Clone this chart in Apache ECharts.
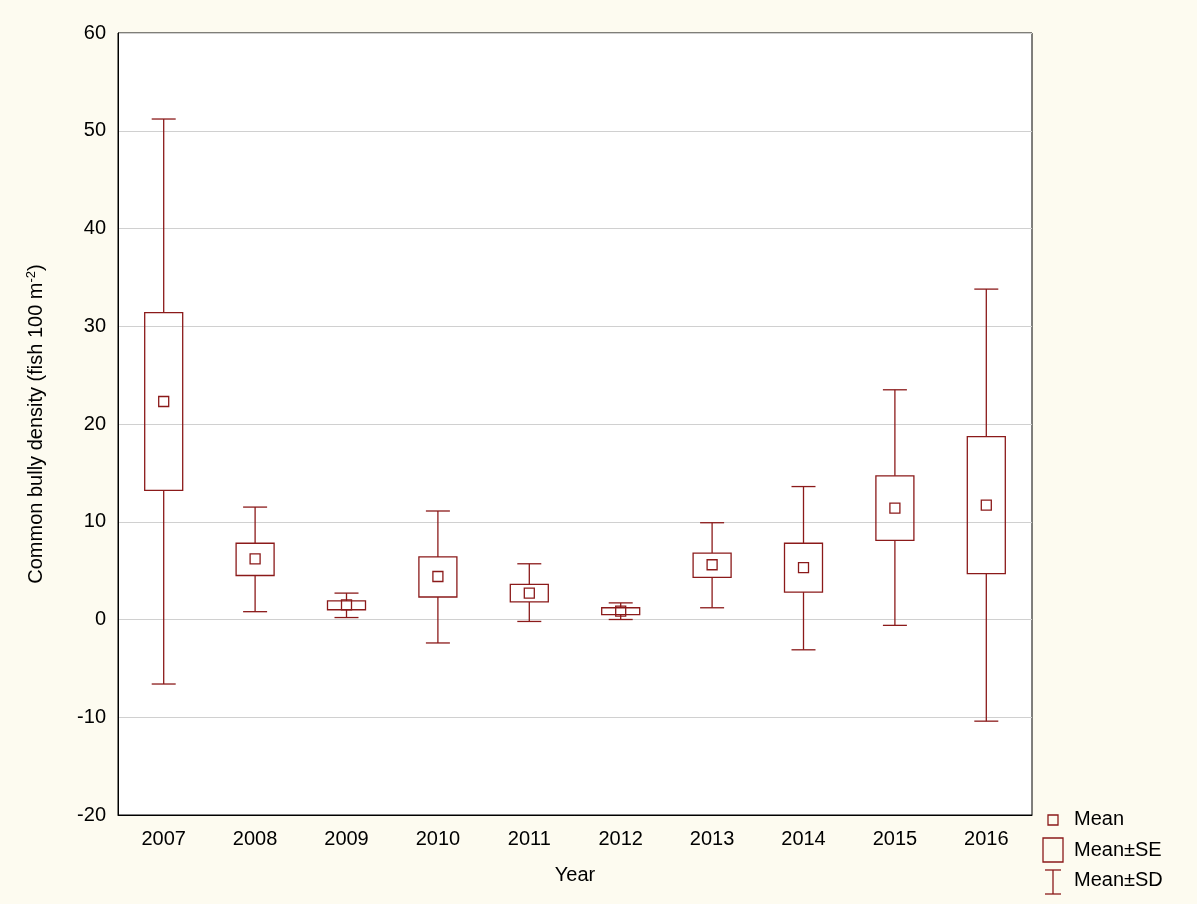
<!DOCTYPE html>
<html><head><meta charset="utf-8">
<script src="https://cdn.jsdelivr.net/npm/echarts@6/dist/echarts.min.js"></script>
<style>html,body{margin:0;background:#fdfbf0;}#c{width:1197px;height:904px;}</style>
</head><body><div id="c"></div>
<script>
var years=['2007','2008','2009','2010','2011','2012','2013','2014','2015','2016'];
var mean=[22.3,6.2,1.5,4.4,2.7,0.85,5.6,5.3,11.4,11.7];
var seHigh=[31.4,7.8,1.9,6.4,3.6,1.2,6.8,7.8,14.7,18.7];
var seLow=[13.2,4.5,1.0,2.3,1.8,0.5,4.3,2.8,8.1,4.7];
var sdHigh=[51.2,11.5,2.7,11.1,5.7,1.7,9.9,13.6,23.5,33.8];
var sdLow=[-6.6,0.8,0.2,-2.4,-0.2,0.0,1.2,-3.1,-0.6,-10.4];
var C='#8b1a1a';
var data=years.map(function(y,i){return [i,mean[i],seLow[i],seHigh[i],sdLow[i],sdHigh[i]];});
var chart=echarts.init(document.getElementById('c'));
var st={stroke:C,fill:'none',lineWidth:1.3};
chart.setOption({
 backgroundColor:'#fdfbf0',animation:false,
 grid:{left:118,right:165,top:33,bottom:89,show:true,backgroundColor:'#fff',borderColor:'#000',borderWidth:1},
 xAxis:{type:'category',data:years,name:'Year',nameLocation:'middle',nameGap:50,
  nameTextStyle:{fontSize:20,color:'#000',fontFamily:'Liberation Sans'},
  axisLabel:{fontSize:20,color:'#000',fontFamily:'Liberation Sans',margin:14},
  axisTick:{show:false},axisLine:{onZero:false,lineStyle:{color:'#000'}}},
 yAxis:{type:'value',min:-20,max:60,interval:10,
  name:'Common bully density (fish 100 m{s|-2})',nameLocation:'middle',nameGap:70,
  nameTextStyle:{fontSize:20,color:'#000',fontFamily:'Liberation Sans',rich:{s:{fontSize:13,verticalAlign:'top',padding:[0,0,10,0]}}},
  axisLabel:{fontSize:20,color:'#000',fontFamily:'Liberation Sans',margin:12},
  axisTick:{show:false},axisLine:{show:true,lineStyle:{color:'#000'}},
  splitLine:{lineStyle:{color:'#d0d0d0'}}},
 series:[{type:'custom',data:data,renderItem:function(p,api){
  var x=api.value(0);
  var m=api.coord([x,api.value(1)]),sl=api.coord([x,api.value(2)]),sh=api.coord([x,api.value(3)]),
      dl=api.coord([x,api.value(4)]),dh=api.coord([x,api.value(5)]);
  var cx=m[0],bw=19,cw=12,ms=5;
  return {type:'group',children:[
   {type:'line',shape:{x1:cx,y1:dh[1],x2:cx,y2:sh[1]},style:st},
   {type:'line',shape:{x1:cx,y1:sl[1],x2:cx,y2:dl[1]},style:st},
   {type:'line',shape:{x1:cx-cw,y1:dh[1],x2:cx+cw,y2:dh[1]},style:st},
   {type:'line',shape:{x1:cx-cw,y1:dl[1],x2:cx+cw,y2:dl[1]},style:st},
   {type:'rect',shape:{x:cx-bw,y:sh[1],width:2*bw,height:sl[1]-sh[1]},style:st},
   {type:'rect',shape:{x:cx-ms,y:m[1]-ms,width:2*ms,height:2*ms},style:st}
  ]};}}],
 graphic:[
  {type:'rect',shape:{x:1048,y:815,width:10,height:10},style:st},
  {type:'text',x:1074,y:809,style:{text:'Mean',fontSize:20,fill:'#000',fontFamily:'Liberation Sans'}},
  {type:'rect',shape:{x:1043,y:838,width:20,height:24},style:st},
  {type:'text',x:1074,y:840,style:{text:'Mean±SE',fontSize:20,fill:'#000',fontFamily:'Liberation Sans'}},
  {type:'line',shape:{x1:1053,y1:870,x2:1053,y2:894},style:st},
  {type:'line',shape:{x1:1045,y1:870,x2:1061,y2:870},style:st},
  {type:'line',shape:{x1:1045,y1:894,x2:1061,y2:894},style:st},
  {type:'text',x:1074,y:870,style:{text:'Mean±SD',fontSize:20,fill:'#000',fontFamily:'Liberation Sans'}}
 ]
});
</script></body></html>
